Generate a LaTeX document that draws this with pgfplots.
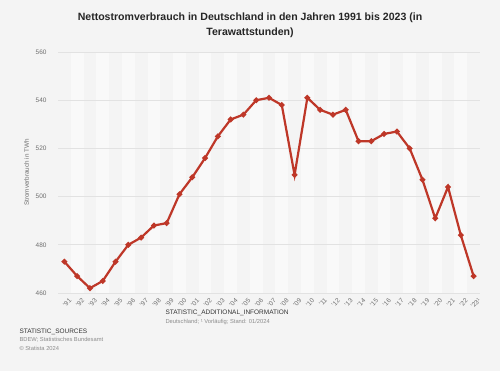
\documentclass[border=0pt]{standalone}
\usepackage{fontspec}
\setmainfont{Liberation Sans}
\usepackage{pgfplots}
\pgfplotsset{compat=1.18}
\definecolor{bg}{RGB}{244,244,244}
\definecolor{band}{RGB}{249,249,249}
\definecolor{gridc}{RGB}{226,226,226}
\definecolor{linec}{RGB}{190,55,40}
\definecolor{tickc}{RGB}{110,110,110}
\pgfplotsset{common/.style={
  at={(58bp,78bp)}, anchor=south west,
  width=422bp, height=241bp, scale only axis,
  xmin=1990.5, xmax=2023.5, ymin=460, ymax=560,
  axis line style={draw=none},
  major tick length=0pt}}
\begin{document}
\begin{tikzpicture}
\fill[bg] (0bp,0bp) rectangle (500bp,371bp);
\node[font=\fontsize{10.6}{15}\selectfont\bfseries, align=center, text=black!85] at (250bp,346bp)
  {Nettostromverbrauch in Deutschland in den Jahren 1991 bis 2023 (in\\Terawattstunden)};
\begin{axis}[common, xtick=\empty, ytick=\empty]
\pgfplotsinvokeforeach{1992,1994,...,2022}{
  \fill[band] (axis cs:#1-0.5,460) rectangle (axis cs:#1+0.5,560);
}
\end{axis}
\begin{axis}[
  common,
  ytick={460,480,...,560},
  ymajorgrids, grid style={gridc, line width=0.6bp},
  xtick={1991,...,2023},
  xticklabels={'91,'92,'93,'94,'95,'96,'97,'98,'99,'00,'01,'02,'03,'04,'05,'06,'07,'08,'09,'10,'11,'12,'13,'14,'15,'16,'17,'18,'19,'20,'21,'22,'23¹},
  xticklabel style={rotate=45, anchor=north east, font=\fontsize{6.5}{7}\selectfont, text=tickc, yshift=-3bp, xshift=3bp},
  yticklabel style={font=\fontsize{6.5}{7}\selectfont, text=tickc, xshift=-8bp},
  /pgf/number format/assume math mode=true,
  ylabel={Stromverbrauch in TWh},
  ylabel style={font=\fontsize{6.3}{7}\selectfont, text=tickc},
]
\addplot[linec, line width=2.2bp, mark=*, mark size=1.6bp, mark options={fill=linec, draw=linec}] coordinates {
(1991,473)(1992,467)(1993,462)(1994,465)(1995,473)(1996,480)(1997,483)(1998,488)(1999,489)(2000,501)(2001,508)(2002,516)(2003,525)(2004,532)(2005,534)(2006,540)(2007,541)(2008,538)(2009,509)(2010,541)(2011,536)(2012,534)(2013,536)(2014,523)(2015,523)(2016,526)(2017,527)(2018,520)(2019,507)(2020,491)(2021,504)(2022,484)(2023,467)
};
\end{axis}
\node[anchor=west, font=\fontsize{6.5}{7}\selectfont, text=black!80] at (162bp,58bp) {STATISTIC\_ADDITIONAL\_INFORMATION};
\node[anchor=west, font=\fontsize{5.8}{7}\selectfont, text=black!45] at (162bp,49bp) {Deutschland; ¹ Vorläufig; Stand: 01/2024};
\node[anchor=west, font=\fontsize{6.5}{7}\selectfont, text=black!80] at (16bp,39bp) {STATISTIC\_SOURCES};
\node[anchor=west, font=\fontsize{5.8}{7}\selectfont, text=black!45] at (16bp,31bp) {BDEW; Statistisches Bundesamt};
\node[anchor=west, font=\fontsize{5.8}{7}\selectfont, text=black!45] at (16bp,23bp) {© Statista 2024};
\end{tikzpicture}
\end{document}
